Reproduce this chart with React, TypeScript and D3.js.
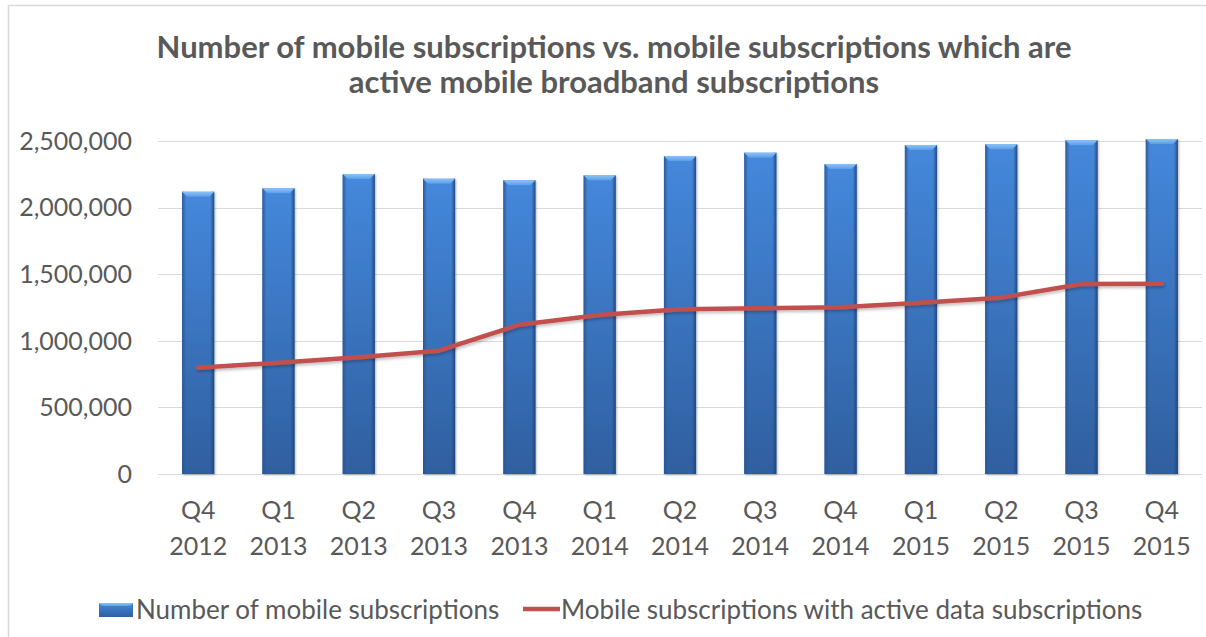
import React from "react";
import * as d3 from "d3";

const categories: string[][] = [
  ["Q4", "2012"], ["Q1", "2013"], ["Q2", "2013"], ["Q3", "2013"], ["Q4", "2013"],
  ["Q1", "2014"], ["Q2", "2014"], ["Q3", "2014"], ["Q4", "2014"],
  ["Q1", "2015"], ["Q2", "2015"], ["Q3", "2015"], ["Q4", "2015"],
];
const mobileSubscriptions: number[] = [
  2119000, 2145000, 2252000, 2217000, 2205000, 2242000, 2387000,
  2412000, 2327000, 2470000, 2475000, 2505000, 2515000,
];
const activeData: number[] = [
  798000, 835000, 876000, 926000, 1121000, 1194000, 1236000,
  1244000, 1251000, 1286000, 1324000, 1426000, 1429000,
];
const yTicks: number[] = [0, 500000, 1000000, 1500000, 2000000, 2500000];
const titleLines: string[] = [
  "Number of mobile subscriptions vs. mobile subscriptions which are",
  "active mobile broadband subscriptions",
];
const legendLabels: string[] = [
  "Number of mobile subscriptions",
  "Mobile subscriptions with active data subscriptions",
];

const W = 1206;
const H = 637;
const plot = { left: 158, right: 1202, top: 141, bottom: 474 };
const FONT = "Lato, 'Open Sans', sans-serif";
const TEXT = "#595959";

export default function App() {
  const x = d3
    .scaleBand<number>()
    .domain(categories.map((_, i) => i))
    .range([plot.left, plot.right])
    .paddingInner(0.6)
    .paddingOuter(0.3);
  const y = d3.scaleLinear().domain([0, 2500000]).range([plot.bottom, plot.top]);
  const fmt = d3.format(",");
  const bw = x.bandwidth();
  const cx = (i: number) => (x(i) as number) + bw / 2;

  const line = d3
    .line<number>()
    .x((_, i) => cx(i))
    .y((d) => y(d));

  return (
    <svg
      width={W}
      height={H}
      style={{ position: "absolute", left: 0, top: 0, background: "#fff" }}
    >
      <defs>
        <linearGradient id="barGrad" x1="0" y1="0" x2="0" y2="1">
          <stop offset="0%" stopColor="#4588dc" />
          <stop offset="100%" stopColor="#2f5f9f" />
        </linearGradient>
        <linearGradient id="edgeL" x1="0" y1="0" x2="1" y2="0">
          <stop offset="0%" stopColor="#2a5590" stopOpacity="0.9" />
          <stop offset="100%" stopColor="#2a5590" stopOpacity="0" />
        </linearGradient>
        <linearGradient id="edgeR" x1="0" y1="0" x2="1" y2="0">
          <stop offset="0%" stopColor="#1f4477" stopOpacity="0" />
          <stop offset="100%" stopColor="#1f4477" stopOpacity="0.9" />
        </linearGradient>
        <linearGradient id="topBevel" x1="0" y1="0" x2="0" y2="1">
          <stop offset="0%" stopColor="#8cc3f7" />
          <stop offset="100%" stopColor="#5b9de8" />
        </linearGradient>
        <filter id="shadow" x="-20%" y="-20%" width="140%" height="140%">
          <feDropShadow dx="1" dy="1" stdDeviation="1.2" floodColor="#000" floodOpacity="0.3" />
        </filter>
        <filter id="lshadow" x="-5%" y="-50%" width="110%" height="200%">
          <feDropShadow dx="1" dy="2" stdDeviation="1.5" floodColor="#000" floodOpacity="0.25" />
        </filter>
      </defs>

      {/* chart border */}
      <rect x={8.5} y={5.5} width={W + 10} height={H + 10} fill="none" stroke="#d9d9d9" strokeWidth={1.5} />

      {/* title */}
      {titleLines.map((t, i) => (
        <text
          key={i}
          x={614}
          y={58 + i * 35}
          textAnchor="middle"
          fontFamily={FONT}
          fontWeight="bold"
          fontSize={31}
          fill={TEXT}
        >
          {t}
        </text>
      ))}

      {/* gridlines & y labels */}
      {yTicks.map((t) => (
        <g key={t}>
          <line
            x1={plot.left}
            x2={plot.right}
            y1={Math.round(y(t)) + 0.5}
            y2={Math.round(y(t)) + 0.5}
            stroke="#d9d9d9"
            strokeWidth={1.2}
          />
          <text
            x={132}
            y={y(t)}
            dy="0.35em"
            textAnchor="end"
            fontFamily={FONT}
            fontSize={25}
            fill={TEXT}
          >
            {fmt(t)}
          </text>
        </g>
      ))}

      {/* bars */}
      {mobileSubscriptions.map((v, i) => {
        const bx = x(i) as number;
        const by = y(v);
        const bh = plot.bottom - by;
        const bev = 5;
        return (
          <g key={i}>
            <rect x={bx} y={by} width={bw} height={bh} fill="url(#barGrad)" filter="url(#shadow)" />
            <rect x={bx} y={by} width={4} height={bh} fill="url(#edgeL)" />
            <rect x={bx + bw - 4} y={by} width={4} height={bh} fill="url(#edgeR)" />
            <polygon
              points={`${bx},${by} ${bx + bw},${by} ${bx + bw - bev},${by + bev} ${bx + bev},${by + bev}`}
              fill="url(#topBevel)"
            />
          </g>
        );
      })}

      {/* line */}
      <path
        d={line(activeData) as string}
        fill="none"
        stroke="#c0504d"
        strokeWidth={4.5}
        strokeLinejoin="round"
        strokeLinecap="round"
        filter="url(#lshadow)"
      />

      {/* x labels */}
      {categories.map((c, i) => (
        <g key={i}>
          {c.map((s, j) => (
            <text
              key={j}
              x={cx(i)}
              y={519 + j * 36}
              textAnchor="middle"
              fontFamily={FONT}
              fontSize={25}
              fill={TEXT}
            >
              {s}
            </text>
          ))}
        </g>
      ))}

      {/* legend */}
      <g>
        <rect x={99} y={603} width={34} height={14} fill="url(#barGrad)" />
        <polygon points="99,603 133,603 130,606 102,606" fill="url(#topBevel)" />
        <text x={136} y={619} fontFamily={FONT} fontSize={26} fill={TEXT}>
          {legendLabels[0]}
        </text>
        <line x1={523} x2={560} y1={609} y2={609} stroke="#c0504d" strokeWidth={4.5} />
        <text x={561} y={619} fontFamily={FONT} fontSize={26} fill={TEXT}>
          {legendLabels[1]}
        </text>
      </g>
    </svg>
  );
}
